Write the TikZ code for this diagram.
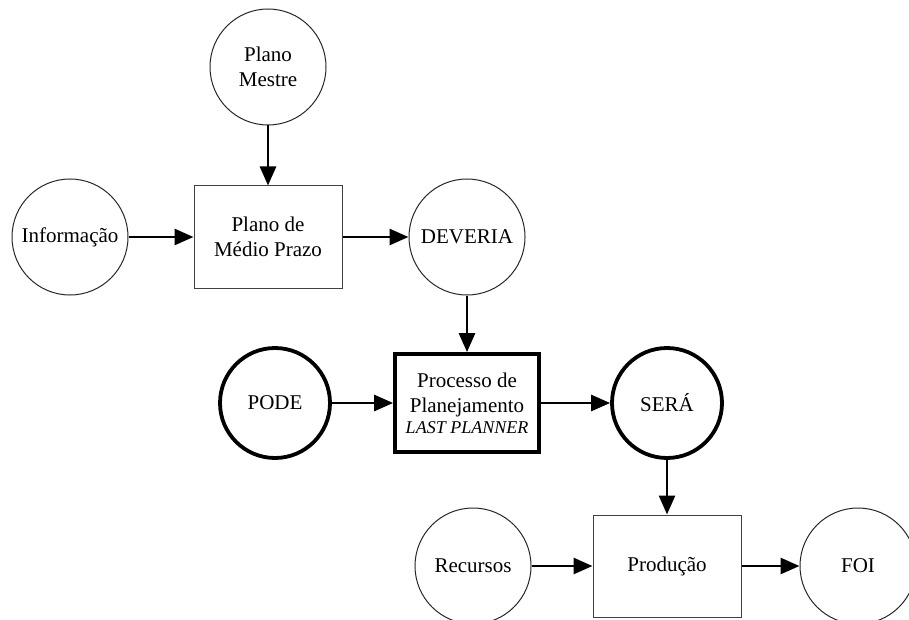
\documentclass[tikz,border=0pt]{standalone}
\usepackage{fontspec}
\setmainfont{Liberation Serif}
\usetikzlibrary{arrows.meta}
\begin{document}
\begin{tikzpicture}[x=1pt,y=-1pt,
  circ/.style={circle,draw=black!85,line width=1pt,minimum size=116pt,inner sep=0pt,align=center,font=\fontsize{21}{25}\selectfont},
  thickcirc/.style={circ,draw=black,line width=3.8pt,minimum size=110pt},
  boxn/.style={rectangle,draw=black!75,line width=1pt,minimum width=148pt,minimum height=102pt,inner sep=0pt,align=center,font=\fontsize{21}{25}\selectfont},
  thickbox/.style={boxn,draw=black,line width=3.8pt,minimum width=144pt,minimum height=98pt},
  arr/.style={line width=2.8pt,-{Triangle[length=19pt,width=16pt]}}]
\useasboundingbox (0,0) rectangle (909,620);
\node[circ] (pm) at (268,67) {Plano\\Mestre};
\node[circ] (inf) at (70,237) {Informação};
\node[boxn] (mp) at (268,237) {Plano de\\Médio Prazo};
\node[circ] (dev) at (467,237) {DEVERIA};
\node[thickcirc] (pode) at (275,403) {PODE};
\node[thickbox] (lp) at (467,403) {Processo de\\Planejamento\\[-4pt]{\fontsize{18}{20}\selectfont\itshape LAST PLANNER}};
\node[thickcirc] (sera) at (667,403) {SERÁ};
\node[circ] (rec) at (473,566) {Recursos};
\node[boxn] (prod) at (667,566) {Produção};
\node[circ] (foi) at (858,566) {FOI};
\draw[arr] (pm) -- (mp);
\draw[arr] (inf) -- (mp);
\draw[arr] (mp) -- (dev);
\draw[arr] (dev) -- (lp);
\draw[arr] (pode) -- (lp);
\draw[arr] (lp) -- (sera);
\draw[arr] (sera) -- (prod);
\draw[arr] (rec) -- (prod);
\draw[arr] (prod) -- (foi);
\end{tikzpicture}
\end{document}
